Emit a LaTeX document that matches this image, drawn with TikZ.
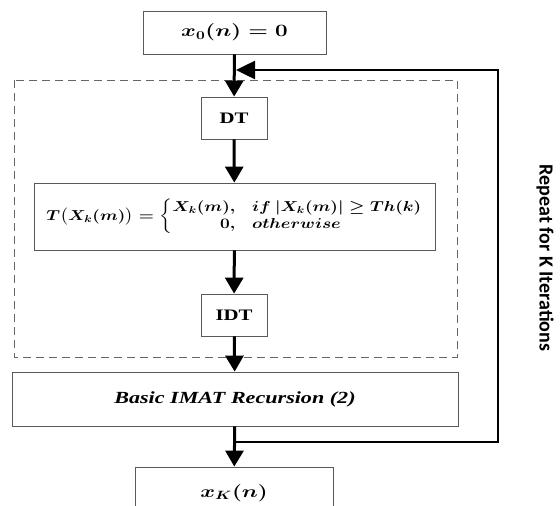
\documentclass[tikz,border=0pt]{standalone}
\usepackage{amsmath}
\usepackage{graphicx}
\usepackage{fontspec}
\setmainfont{Liberation Serif}
\newfontfamily\sidefont{Carlito}
\usetikzlibrary{arrows.meta}

\newcommand{\wide}[2][1.3]{\scalebox{#1}[1]{#2}}

\tikzset{
    block/.style={draw=black!65, line width=0.8pt, fill=white, minimum width=#1, inner sep=0pt},
    flow/.style={line width=3pt, -{Triangle[width=18pt,length=16pt]}},
    loopline/.style={line width=2.5pt},
    frame/.style={draw=black!60, line width=1pt, dash pattern=on 8pt off 5pt},
}

\begin{document}
\begin{tikzpicture}[x=1pt, y=-1pt]
        \useasboundingbox (0,0) rectangle (560,506);
        \clip (0,0) rectangle (560,506);

        \draw[frame] (14,80) rectangle (457,357);

        \node[block=183pt, minimum height=43pt] (init) at (234.5,32.5)
            {\wide{\fontsize{17}{20}\selectfont\boldmath$x_0(n) = 0$}};
        \node[block=66pt, minimum height=42pt] (dt) at (234,118)
            {\wide{\fontsize{16}{19}\selectfont\bfseries DT}};
        \node[block=401pt, minimum height=67pt] (thr) at (234.5,216.5)
            {\wide[1.2]{\fontsize{14}{17}\selectfont\boldmath$T\big(X_k(m)\big) = \left\{\begin{array}{@{}r@{\quad}l@{}} X_k(m), & if\ |X_k(m)| \ge Th(k)\\ 0, & otherwise\end{array}\right.$}};
        \node[block=66pt, minimum height=42pt] (idt) at (234,315)
            {\wide{\fontsize{16}{19}\selectfont\bfseries IDT}};
        \node[block=446pt, minimum height=54pt] (basic) at (235,399)
            {\wide{\fontsize{17}{20}\selectfont\bfseries\itshape Basic IMAT Recursion (2)}};
        \node[block=198pt, minimum height=52pt] (final) at (234,493)
            {\wide{\fontsize{18}{21}\selectfont\boldmath$x_K(n)$}};

        \draw[flow] (init) -- (dt);
        \draw[flow] (dt) -- (thr);
        \draw[flow] (thr) -- (idt);
        \draw[flow] (idt) -- (basic);
        \draw[flow] (basic) -- (final);

        \coordinate (fbtop) at (498,70);
        \coordinate (fbbot) at (498,442);
        \draw[loopline, -{Triangle[width=18pt,length=19pt]}, shorten >=1.5pt]
            (basic.south |- fbbot) -- (fbbot) -- (fbtop) -- (init.south |- fbtop);

        \node[rotate=-90, font=\sidefont\bfseries\fontsize{20}{24}\selectfont] (reps) at (545,258) {Repeat for K Iterations};
\end{tikzpicture}
\end{document}
